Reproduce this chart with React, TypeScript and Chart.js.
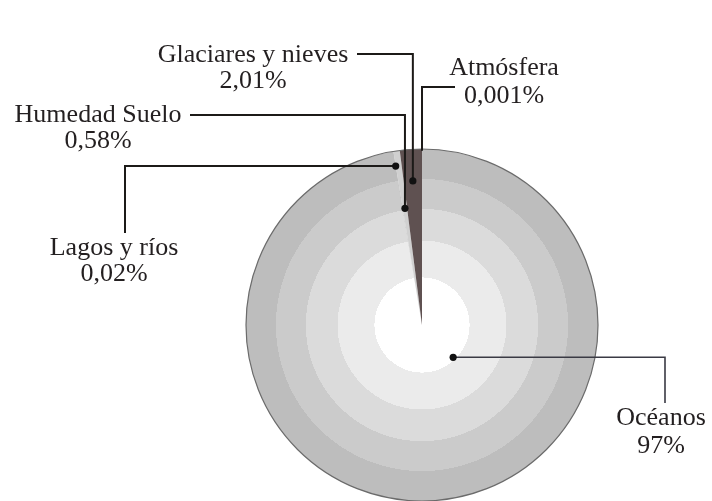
import { useEffect, useRef } from "react";
import { Chart, registerables } from "chart.js";

Chart.register(...registerables);

// Distribution of the planet's water (percent of total volume)
const categories = ["Atmósfera", "Océanos", "Lagos y ríos", "Humedad Suelo", "Glaciares y nieves"];
const shares = [0.001, 97, 0.02, 0.58, 2.01];

// Fill per slice; the ocean slice uses concentric bands instead
const sliceColors = ["#16130f", "#c4c4c4", "#8a8a8a", "#d0d0d0", "#5f5151"];
const oceanBands: [number, string][] = [
  [0.27, "#ffffff"],
  [0.48, "#ebebeb"],
  [0.66, "#dbdbdb"],
  [0.83, "#cbcbcb"],
  [1.0, "#bdbdbd"],
];

// Callout layout: text centre / baselines, where the leader leaves the text,
// how it bends, and where on the slice it lands (fraction of the arc, fraction of the radius)
type Callout = {
  cx: number;
  b1: number;
  b2: number;
  sx: number;
  sy: number;
  bend: "hv" | "vh";
  along: number;
  radial: number;
  dot: boolean;
  thin?: boolean;
};
const callouts: Callout[] = [
  { cx: 504, b1: 75, b2: 103, sx: 455, sy: 87, bend: "hv", along: 0.5, radial: 0.99, dot: false },
  { cx: 661, b1: 425, b2: 453, sx: 665, sy: 403, bend: "vh", along: 0.388, radial: 0.255, dot: true, thin: true },
  { cx: 114, b1: 255, b2: 281, sx: 125, sy: 233, bend: "vh", along: 0.5, radial: 0.915, dot: true },
  { cx: 98, b1: 122, b2: 148, sx: 190, sy: 115, bend: "hv", along: 0.5, radial: 0.67, dot: true },
  { cx: 253, b1: 62, b2: 88, sx: 357, sy: 54, bend: "hv", along: 0.5, radial: 0.82, dot: true },
];

const formatShare = (v: number) => String(v).replace(".", ",") + "%";

const calloutPlugin = {
  id: "callouts",
  afterDatasetsDraw(chart: any) {
    const ctx: CanvasRenderingContext2D = chart.ctx;
    const meta = chart.getDatasetMeta(0);
    const first = meta.data[0];
    const { x, y, outerRadius } = first.getProps(["x", "y", "outerRadius"], true);

    ctx.save();
    // rim of the pie
    ctx.beginPath();
    ctx.arc(x, y, outerRadius, 0, Math.PI * 2);
    ctx.strokeStyle = "#6b6b6b";
    ctx.lineWidth = 1.2;
    ctx.stroke();

    callouts.forEach((c, i) => {
      const arc = meta.data[i];
      const { startAngle, endAngle } = arc.getProps(["startAngle", "endAngle"], true);
      const a = startAngle + (endAngle - startAngle) * c.along;
      const r = outerRadius * c.radial;
      const px = x + Math.cos(a) * r;
      const py = y + Math.sin(a) * r;

      ctx.beginPath();
      ctx.moveTo(c.sx, c.sy);
      if (c.bend === "hv") ctx.lineTo(px, c.sy);
      else ctx.lineTo(c.sx, py);
      ctx.lineTo(px, py);
      ctx.strokeStyle = c.thin ? "#3a3a44" : "#1c1a18";
      ctx.lineWidth = c.thin ? 1.6 : 2;
      ctx.lineCap = "butt";
      ctx.lineJoin = "miter";
      ctx.stroke();

      if (c.dot) {
        ctx.beginPath();
        ctx.arc(px, py, 3.6, 0, Math.PI * 2);
        ctx.fillStyle = "#111111";
        ctx.fill();
      }

      ctx.fillStyle = "#231f20";
      ctx.font = '26px "Liberation Serif", "Times New Roman", serif';
      ctx.textAlign = "center";
      ctx.textBaseline = "alphabetic";
      ctx.fillText(categories[i], c.cx, c.b1);
      ctx.fillText(formatShare(shares[i]), c.cx, c.b2);
    });
    ctx.restore();
  },
};

export default function App() {
  const canvasRef = useRef<HTMLCanvasElement | null>(null);

  useEffect(() => {
    const canvas = canvasRef.current;
    if (!canvas) return;
    const chart = new Chart(canvas, {
      type: "pie",
      data: {
        labels: categories,
        datasets: [
          {
            data: shares,
            borderWidth: 0,
            backgroundColor: (context: any) => {
              const i = context.dataIndex;
              if (i !== 1) return sliceColors[i];
              const area = context.chart.chartArea;
              if (!area) return sliceColors[i];
              const cx = (area.left + area.right) / 2;
              const cy = (area.top + area.bottom) / 2;
              const r = Math.min(area.right - area.left, area.bottom - area.top) / 2;
              const g = context.chart.ctx.createRadialGradient(cx, cy, 0, cx, cy, r);
              let prev = 0;
              oceanBands.forEach(([stop, color]) => {
                g.addColorStop(prev, color);
                g.addColorStop(stop, color);
                prev = stop + 0.0001;
              });
              return g;
            },
          },
        ],
      },
      options: {
        responsive: false,
        animation: false,
        devicePixelRatio: 1,
        rotation: 0,
        layout: { padding: { left: 246, right: 114, top: 149, bottom: 0 } },
        plugins: {
          legend: { display: false },
          tooltip: { enabled: false },
        },
        events: [],
      },
      plugins: [calloutPlugin],
    });
    return () => chart.destroy();
  }, []);

  return (
    <div style={{ position: "fixed", left: 0, top: 0, width: 712, height: 501, background: "#ffffff" }}>
      <canvas ref={canvasRef} width={712} height={501} style={{ display: "block" }} />
    </div>
  );
}
